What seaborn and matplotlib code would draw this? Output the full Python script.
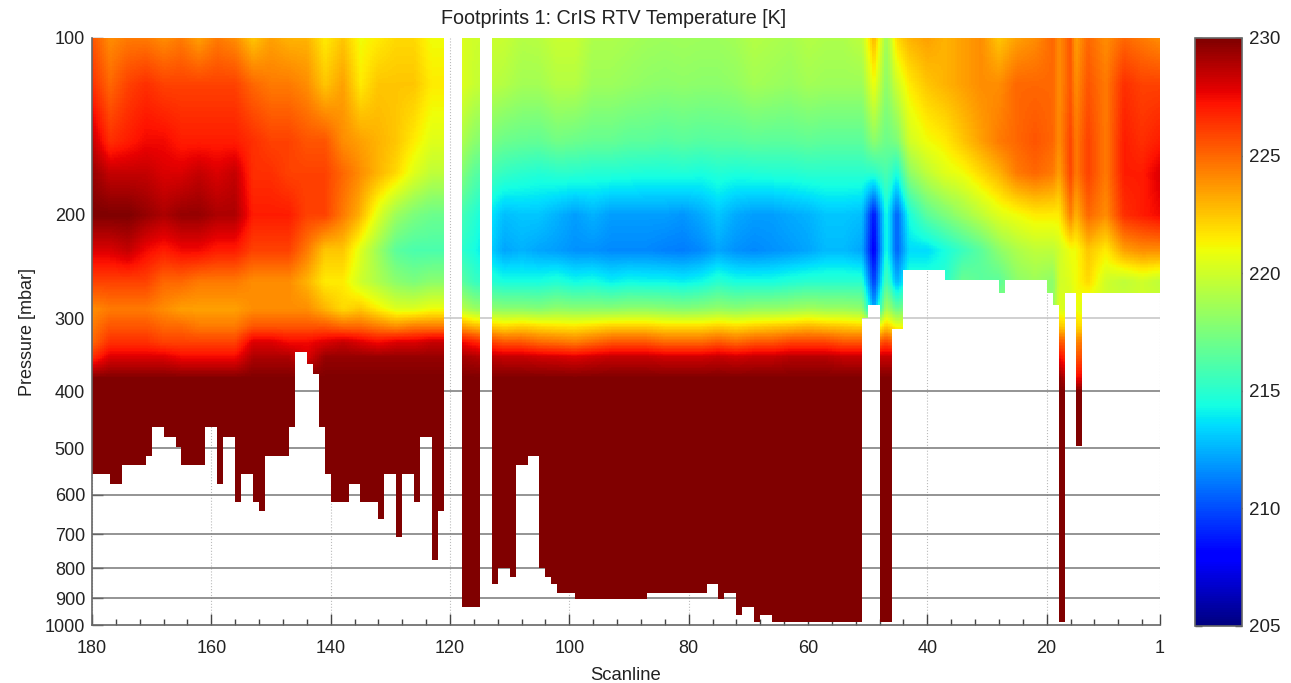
import numpy as np
import matplotlib
matplotlib.use("Agg")
import matplotlib.pyplot as plt
import seaborn as sns

scan_nodes = [180,177,174,171,168,165,162,159,156,153,150,147,144,141,138,135,132,129,126,123,121,
              116,
              111,108,105,102,99,96,93,90,87,84,81,78,75,72,69,66,63,60,57,54,51,
              49,47,45,43,
              40,37,34,31,28,25,22,19,
              18,16,15,13,10,7,4,1]

# temperature [K] at each read pressure level, one value per scan_nodes entry
t_100 = [225.5,224,224.5,224.5,224,224.5,223.5,224.5,224,222.5,223.5,223,223,221.5,222.5,221,221.5,222,222,221,221,
         220,
         219.8,219.2,219.3,219.8,219.8,219,219,218.8,218.6,218.5,218.6,218.5,218.5,218.7,219.2,219,218.8,219.2,219,219,219.5,
         223,218.5,222,223,
         223.5,223,223.5,224,222.5,223.5,224,225,
         224,225.5,223.5,225,224,225,224.5,224]
t_120 = [226.5,225,226,226.5,226,226,226,226,226,225,224.5,224.5,224,222.5,223.5,221.5,222.5,222.5,222.5,221.5,221.5,
         219.8,
         219.2,218.7,218.7,219.2,219.2,218.5,218.5,218.3,218.1,218,218.1,218,218,218.2,218.7,218.5,218.3,218.7,218.5,218.5,218.5,
         221,218,220,221.5,
         222.5,223,223.5,224,224,225,225,225,
         224,225.5,224,225.5,224.5,226.5,226,226]
t_150 = [228.5,226.5,227,227.5,227.5,227,227,227,227,226.5,226,226,225.5,225.5,224,223.5,223,222.5,221.5,220.5,220.5,
         218,
         217,216.8,216.7,217.2,217,216.8,216.8,216.5,216.5,216.3,216.5,216.3,216.4,216.4,216.6,216.5,216.5,216.7,216.5,216.5,216.5,
         218,217,217.5,220,
         221,221.5,222.5,223.5,224.5,225,225.5,225,
         224,226,224.5,226,224.5,227,226.5,227]
t_170 = [229.5,228.5,228.5,228.5,228,228,228.5,228,228.5,226.5,226.5,226,226,226,225,224,223,222,220.5,219.5,219.5,
         216.5,
         215.3,215,214.8,215,215,214.8,214.8,214.7,214.6,214.6,214.7,214.5,214.8,214.6,214.7,214.8,214.8,215,215,215,215,
         215,216,214.5,218,
         219.5,220.5,221,222,223,224.5,225,224.5,
         223.5,226,224.5,226,224.5,227,227,228]
t_200 = [230,230,230,229.5,229,229.5,229.5,229,229,227,227,227,226,226,224.5,223,220.5,218.5,217.5,217,217,
         215,
         212.8,213,213,212.5,212,212.5,212,212,212,212,211.8,212.3,213,212.3,212,212,212.3,212.5,213,213,212.8,
         208.5,214.5,210.5,214.5,
         216.5,217.5,218.5,219.5,220.5,221,221.5,221.5,
         221.5,224.5,223,225,224,226.5,227,227.5]
t_230 = [228,228,228.5,227.5,227,227.5,227.5,227,227,226,226,226,224.5,222.5,222.5,220.5,218.5,216.5,216,216,216,
         214.5,
         212.2,212.5,212.2,212,211.7,211.7,211.5,211.5,211.5,211.3,211.2,211.5,212.2,211.7,211.5,211.7,211.9,212.2,212.7,212.7,212.2,
         207.8,214.5,210.5,213.5,
         213.5,214.5,215.5,216.5,218,219,219.5,219.5,
         220,221,221,222.5,221.5,223.5,224,224]
t_260 = [226,226,226,226,225,225,224.5,224.5,224.5,224,224,224,223,221.5,221.5,220,219,218,217.5,218,218,
         215.5,
         214.5,214.5,214.5,214.8,214.3,214.5,214,214.3,214.2,214.2,214,214.3,215,214.5,214.5,214.5,214.8,215,215,215,215,
         209.5,216,212.5,215,
         215,215,217,216.5,216.5,218,218.5,218,
         220,220.5,221,222,220,219.5,220,219.5]
t_290 = [224,224.5,224.5,224.5,224,223.5,223.5,223.5,223.5,224,224,224,224,223,222,222.5,221.5,220.5,220.5,221,221,
         218.5,
         218,218,217.8,218.2,218,218,218,218.2,218.2,218,217.8,218,218.3,218,218.3,218.3,218.5,218.8,218.5,218.5,218.2,
         212,219,217,218,
         218,218,218,218,218,218,218,218,
         220.5,220,221,220,220,220,220,220]
t_310 = [224.5,225.5,225.5,225.5,225,225,224.5,224.5,224.5,225.5,225.5,225.5,225.5,225.5,225,225,224.5,224,224.5,224.5,224.5,
         223,
         222,222.3,222,221.8,221.7,222,222.3,222.3,222.3,222,222,222,222.3,222,222.3,222.5,222.7,223,222.7,222.5,222.3,
         220,222.5,221,221,
         221,221,221,221,221,221,221,221,
         222.5,222,222,222,222,222,222,222]
t_330 = [225,226.5,226.5,226.5,226,226,226,226,226,228,228,227.5,227.5,228,228.5,228,227.5,228,228,228.5,228.5,
         227,
         225.5,225.5,225,224.8,224.5,225,225.5,225.5,225.5,225,225,225,225.5,225,225.5,225.5,226,226,226,225.5,225.5,
         225,226,225,226,
         226,226,226,226,226,226,226,226,
         225.5,225,224.2,225,225,225,225,225]
t_350 = [226.5,228,228,228,228,227.5,227.5,227.5,227.5,229,229,229,228,229.5,229.5,229.5,229.5,229.5,229.5,229.5,229.5,
         229,
         228.5,228.5,228.3,228.2,228,228.3,228.5,228.5,228.5,228.3,228.3,228.3,228.5,228.3,228.5,228.5,228.8,228.8,228.8,228.5,228.5,
         228.5,228.5,228.5,228.5,
         228.5,228.5,228.5,228.5,228.5,228.5,228.5,228.5,
         227.5,226,225.5,226,226,226,226,226]
t_380 = [230,230,230,230,230,230,230,230,230,230,230,230,230,230,230,230,230,230,230,230,230,
         230,
         230,230,230,230,230,230,230,230,230,230,230,230,230,230,230,230,230,230,230,230,230,
         230,230,230,230,
         230,230,230,230,230,230,230,230,
         229.8,228,227.5,228,228,228,228,228]
t_400 = [230] * 63

levels = [100,120,150,170,200,230,260,290,310,330,350,380,400]
t_levels = [t_100,t_120,t_150,t_170,t_200,t_230,t_260,t_290,t_310,t_330,t_350,t_380,t_400]

# lowest pressure with data in each scanline, as runs going from 180 down to 1 (0 = no data at all)
floor_run = [3,2,4,1,2,2,1,4,2,1,2,1,2,1,1,4,1,2,1,1,1,1,3,2,3,1,2,1,2,1,2,1,1,
             3,3,2,1,2,1,2,2,1,1,1,3,12,10,2,1,2,1,2,1,2,15,
             1,2,2,2,7,9,1,7,1,1,1,2,1,13]
floor_p = [553,575,534,515,460,478,497,534,460,575,478,617,553,617,637,515,460,343,358,373,460,553,617,575,617,660,553,708,553,617,478,778,637,
           0,931,0,851,800,828,534,515,800,828,851,879,903,879,851,903,879,958,931,988,958,988,
           300,285,988,313,248,259,272,259,272,285,988,272,496,272]

x_ticks = [180,160,140,120,100,80,60,40,20,1]
x_minor = [176,172,168,164,156,152,148,144,136,132,128,124,116,112,108,104,96,92,88,84,
           76,72,68,64,56,52,48,44,36,32,28,24,16,12,8,4]
y_ticks = [100,200,300,400,500,600,700,800,900,1000]
cbar_ticks = [205,210,215,220,225,230]

# display grid, the source is a shaded pcolor so the read values get blended between nodes
sub = 3
nx = 179 * sub
ny = 400
x_c = 180 - (np.arange(nx) + 0.5) / sub
p_c = 100 * 10 ** ((np.arange(ny) + 0.5) / ny)

across = np.array([np.interp(-x_c, -np.array(scan_nodes), t) for t in t_levels])
field = np.array([np.interp(np.log10(p_c), np.log10(levels), across[:, i]) for i in range(nx)]).T

floors = np.repeat(floor_p, floor_run)
mask = p_c[:, None] > np.repeat(floors, sub)[None, :]

sns.set_style("white")
plt.rcParams['font.family'] = ['Liberation Sans', 'DejaVu Sans']

fig = plt.figure(figsize=(12.91, 6.83), dpi=100)
ax = fig.add_axes([92 / 1291, 1 - 625 / 683, 1068 / 1291, 587 / 683])
cax = fig.add_axes([1195 / 1291, 1 - 626 / 683, 47 / 1291, 588 / 683])

sns.heatmap(field, mask=mask, cmap="jet", vmin=205, vmax=230, ax=ax, cbar_ax=cax,
            xticklabels=False, yticklabels=False, cbar_kws={"ticks": cbar_ticks})

x_pos = [(180 - s) * sub for s in x_ticks]
y_pos = [np.log10(p / 100) * ny for p in y_ticks]
ax.set_xticks(x_pos)
ax.set_xticklabels([str(s) for s in x_ticks], fontsize=13, color="#222222")
ax.set_xticks([(180 - s) * sub for s in x_minor], minor=True)
ax.set_yticks(y_pos)
ax.set_yticklabels([str(p) for p in y_ticks], fontsize=13, color="#222222")

ax.tick_params(axis="x", which="major", direction="in", length=8, width=1, color="#444444", pad=11,
               bottom=True, top=False)
ax.tick_params(axis="x", which="minor", direction="in", length=4, width=1, color="#444444", bottom=True)
ax.tick_params(axis="y", which="major", direction="in", length=8, width=1, color="#666666", pad=5, left=True)

# grid stays behind the mesh, shows only where there is no data
ax.set_axisbelow(True)
ax.grid(True, axis="x", which="major", linestyle=":", linewidth=0.8, color="#bbbbbb")
ax.grid(True, axis="y", which="major", linestyle="-", linewidth=1.1, color="#777777")
ax.get_ygridlines()[2].set_color("#c4c4c4")
for i in [0, 1, 9]:
    ax.get_ygridlines()[i].set_visible(False)

for side in ["top", "right"]:
    ax.spines[side].set_visible(False)
for side in ["left", "bottom"]:
    ax.spines[side].set_visible(True)
    ax.spines[side].set_color("#666666")
    ax.spines[side].set_linewidth(1.2)

ax.set_xlabel("Scanline", fontsize=13.3, color="#222222", labelpad=7)
ax.set_ylabel("Pressure [mbar]", fontsize=13, color="#222222", labelpad=6)
ax.set_title("Footprints 1: CrIS RTV Temperature [K]", fontsize=14.2, color="#222222", pad=10, x=0.488)

cbar = ax.collections[0].colorbar
cbar.ax.tick_params(direction="in", length=5, width=1, color="#444444", labelsize=13.5, left=True, right=True,
                    labelcolor="#222222", pad=5)
cbar.outline.set_visible(True)
cbar.outline.set_edgecolor("#666666")
cbar.outline.set_linewidth(1.2)

fig.savefig("out.png", dpi=100)
